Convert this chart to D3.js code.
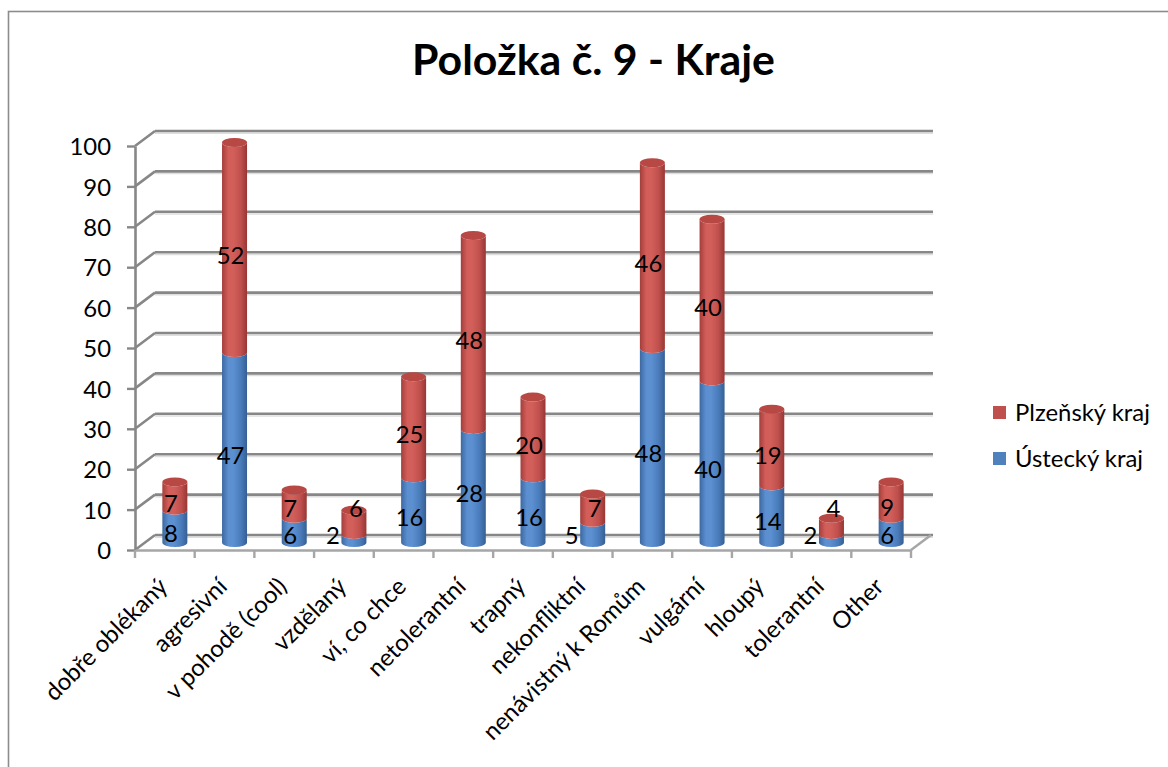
<!DOCTYPE html>
<html>
<head>
<meta charset="utf-8">
<script src="https://cdn.jsdelivr.net/npm/d3@7"></script>
<style>
  html, body { margin: 0; padding: 0; background: #fff; }
  svg { display: block; }
  text { font-family: Lato, "Open Sans", sans-serif; }
</style>
</head>
<body>
<svg id="chart" width="1168" height="767"></svg>
<script>
// ---------------- data ----------------
const categories = ["dobře oblékaný","agresivní","v pohodě (cool)","vzdělaný","ví, co chce","netolerantní","trapný","nekonfliktní","nenávistný k Romům","vulgární","hloupý","tolerantní","Other"];
const usteckyValues  = [8, 47, 6, 2, 16, 28, 16, 5, 48, 40, 14, 2, 6];
const plzenskyValues = [7, 52, 7, 6, 25, 48, 20, 7, 46, 40, 19, 4, 9];
const yTickValues = [0,10,20,30,40,50,60,70,80,90,100];
const seriesNames = ["Plzeňský kraj", "Ústecký kraj"];
const titleText = "Položka č. 9 - Kraje";

// ---------------- layout ----------------
const svg = d3.select("#chart");
const depthX = 20, depthY = -15;
const x = d3.scaleBand().domain(categories).range([135, 911]).padding(0);
const y = d3.scaleLinear().domain([0, 100]).range([550, 146]);
const gridColor = "#878787";
const cylR = 12.5, cylRy = 4.5;

// helper: fit font size of a text to a target width
function fitSize(str, weight, target) {
  const t = svg.append("text").attr("font-size", 100).attr("font-weight", weight).text(str);
  const w = t.node().getComputedTextLength();
  t.remove();
  return 100 * target / w;
}
const baseSize = fitSize(seriesNames[0], "normal", 135);
const titleSize = fitSize(titleText, "bold", 363);

// frame
svg.append("rect").attr("x", 8.5).attr("y", 11.5).attr("width", 1300).attr("height", 900)
  .attr("fill", "none").attr("stroke", "#8c8c8c").attr("stroke-width", 1.6);

// title
svg.append("text").attr("x", 593.5).attr("y", 75).attr("text-anchor", "middle")
  .attr("font-weight", "bold").attr("font-size", titleSize).attr("fill", "#000").text(titleText);

// ---------------- gradients ----------------
const defs = svg.append("defs");
function makeGrad(id, stops) {
  const g = defs.append("linearGradient").attr("id", id).attr("x1", "0%").attr("x2", "100%").attr("y1", "0%").attr("y2", "0%");
  stops.forEach(s => g.append("stop").attr("offset", s[0]).attr("stop-color", s[1]));
}
makeGrad("gBlue", [["0%","#3d68a0"],["25%","#5b8fd0"],["45%","#5c90d1"],["75%","#4a7cbb"],["100%","#365f93"]]);
makeGrad("gRed",  [["0%","#a33e3b"],["25%","#d25d59"],["45%","#d35f5a"],["75%","#c0504d"],["100%","#973634"]]);

// ---------------- walls / gridlines ----------------
const grid = svg.append("g");
const xs0 = x.range()[0], xs1 = x.range()[1];
grid.selectAll("line.shadow").data(yTickValues).join("line")
  .attr("x1", xs0 + depthX).attr("x2", xs1 + depthX + 2)
  .attr("y1", d => y(d) + depthY + 2.2).attr("y2", d => y(d) + depthY + 2.2)
  .attr("stroke", "#dedede").attr("stroke-width", 1.5);
grid.selectAll("line.back").data(yTickValues).join("line")
  .attr("x1", xs0 + depthX).attr("x2", xs1 + depthX + 2)
  .attr("y1", d => y(d) + depthY).attr("y2", d => y(d) + depthY)
  .attr("stroke", gridColor).attr("stroke-width", 2.6);
grid.selectAll("line.side").data(yTickValues).join("line")
  .attr("x1", xs0).attr("y1", d => y(d))
  .attr("x2", xs0 + depthX).attr("y2", d => y(d) + depthY)
  .attr("stroke", gridColor).attr("stroke-width", 2.6);
grid.append("line").attr("x1", xs1).attr("y1", y(0)).attr("x2", xs1 + depthX).attr("y2", y(0) + depthY)
  .attr("stroke", "#a6a6a6").attr("stroke-width", 2.4);

// ---------------- axes ----------------
const yAxis = d3.axisLeft(y).tickValues(yTickValues).tickSize(8).tickPadding(16).tickSizeOuter(0);
const gy = svg.append("g").attr("transform", `translate(${xs0},0)`).call(yAxis);
gy.select(".domain").attr("stroke", gridColor).attr("stroke-width", 2.6);
gy.selectAll(".tick line").attr("stroke", gridColor).attr("stroke-width", 2.4);
gy.selectAll(".tick text").attr("font-size", baseSize).attr("font-family", "Lato").attr("fill", "#000").attr("dy", "0.36em");

const xAxis = d3.axisBottom(x).tickSize(0).tickSizeOuter(0).tickPadding(0);
const gx = svg.append("g").attr("transform", `translate(0,${y(0)})`).call(xAxis);
gx.select(".domain").attr("stroke", "#a6a6a6").attr("stroke-width", 2.4);
const boundaries = categories.map(c => x(c)).concat([x(categories[categories.length-1]) + x.bandwidth()]);
gx.selectAll("line.btick").data(boundaries).join("line").attr("class", "btick")
  .attr("x1", d => d).attr("x2", d => d).attr("y1", 0).attr("y2", 8)
  .attr("stroke", "#a6a6a6").attr("stroke-width", 2.4);
gx.selectAll(".tick text")
  .attr("font-size", baseSize).attr("font-family", "Lato").attr("fill", "#000")
  .attr("text-anchor", "end").attr("dy", 0)
  .attr("transform", `translate(4,38) rotate(-45)`);

// ---------------- cylinders ----------------
const rows = categories.map((c, i) => ({ cat: c, u: usteckyValues[i], p: plzenskyValues[i] }));
function cx(d) { return x(d.cat) + x.bandwidth() / 2 + depthX / 2; }
function ym(v) { return y(v) + depthY / 2; }
function bodyPath(c, y0, y1) {
  return `M${c - cylR},${y1} L${c - cylR},${y0} A${cylR},${cylRy} 0 0 0 ${c + cylR},${y0} L${c + cylR},${y1} A${cylR},${cylRy} 0 0 1 ${c - cylR},${y1} Z`;
}
const bars = svg.append("g");
rows.forEach(d => {
  const c = cx(d);
  bars.append("path").attr("d", bodyPath(c, ym(0), ym(d.u))).attr("fill", "url(#gBlue)");
  bars.append("path").attr("d", bodyPath(c, ym(d.u), ym(d.u + d.p))).attr("fill", "url(#gRed)");
  bars.append("ellipse").attr("cx", c).attr("cy", ym(d.u + d.p)).attr("rx", cylR).attr("ry", cylRy)
    .attr("fill", "#b84844");
});

// ---------------- data labels ----------------
const labels = svg.append("g").attr("font-size", baseSize).attr("fill", "#000").attr("text-anchor", "middle");
rows.forEach(d => {
  const fc = x(d.cat) + x.bandwidth() / 2;
  const small = d.u <= 5;
  const uy = Math.min(y(d.u / 2), y(0) - 15);
  const py = Math.min(y(d.u + d.p / 2), uy - 27);
  labels.append("text").attr("x", fc + (small ? -11 : 6)).attr("y", uy).attr("dy", "0.36em").text(d.u);
  labels.append("text").attr("x", fc + (small ? 12 : 6)).attr("y", py).attr("dy", "0.36em").text(d.p);
});

// ---------------- legend ----------------
const legendColors = ["#c0504d", "#4f81bd"];
const leg = svg.append("g");
seriesNames.forEach((n, i) => {
  const ly = 412 + i * 46;
  leg.append("rect").attr("x", 993).attr("y", ly - 6).attr("width", 13).attr("height", 13).attr("fill", legendColors[i]);
  leg.append("text").attr("x", 1015).attr("y", ly).attr("dy", "0.36em").attr("font-size", baseSize).attr("fill", "#000").text(n);
});
</script>
</body>
</html>
